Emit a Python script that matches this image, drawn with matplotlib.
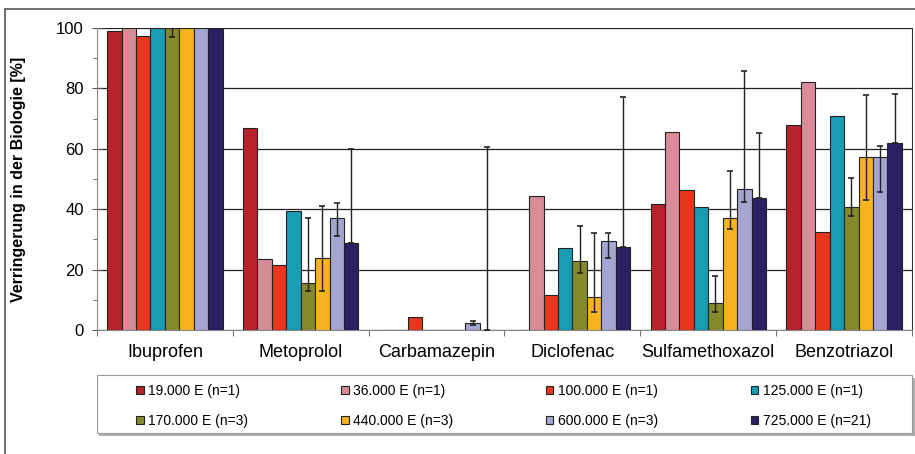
import numpy as np
import matplotlib.pyplot as plt
from matplotlib.patches import Rectangle
from matplotlib.ticker import MultipleLocator

plt.rcParams["font.family"] = ["Liberation Sans", "DejaVu Sans"]

# ==================== 数据 ====================
categories = ["Ibuprofen", "Metoprolol", "Carbamazepin", "Diclofenac",
              "Sulfamethoxazol", "Benzotriazol"]
labels = ["19.000 E (n=1)", "36.000 E (n=1)", "100.000 E (n=1)", "125.000 E (n=1)",
          "170.000 E (n=3)", "440.000 E (n=3)", "600.000 E (n=3)", "725.000 E (n=21)"]

v19 = [99, 67, 0, 0, 41.8, 68]
v36 = [100, 23.4, 0, 44.3, 65.7, 82]
v100 = [97.5, 21.5, 4.3, 11.5, 46.5, 32.6]
v125 = [100, 39.3, 0, 27, 40.8, 70.7]
v170 = [100, 15.7, 0, 23, 9, 40.7]
v440 = [100, 24, 0, 11, 37, 57.3]
v600 = [100, 37, 2.3, 29.5, 46.8, 57.2]
v725 = [100, 28.7, 0, 27.5, 43.6, 62]

# Fehlerbalken (untere / obere Grenze), nan = kein Balken
lo170 = [97, 13, np.nan, 19, 6, 37.7]
hi170 = [100, 37, np.nan, 34.4, 18, 50.2]
lo440 = [100, 13, np.nan, 6, 33.6, 43]
hi440 = [100, 41, np.nan, 32, 52.6, 77.8]
lo600 = [100, 31, 1.5, 24, 42.3, 45.8]
hi600 = [100, 42, 3, 32, 85.6, 61]
lo725 = [100, 28.7, 0, 27.5, 43.6, 62]
hi725 = [100, 60, 60.5, 77, 65.2, 78]

colors = ["#b8232b", "#d98c98", "#e8361e", "#1b9cb5",
          "#878a2c", "#f7b21f", "#a5a5d2", "#2c1f63"]

values = [v19, v36, v100, v125, v170, v440, v600, v725]
errors = [None, None, None, None, (lo170, hi170), (lo440, hi440),
          (lo600, hi600), (lo725, hi725)]

# ==================== 绘图 ====================
fig = plt.figure(figsize=(9.15, 4.54), dpi=100)
ax = fig.add_axes([97 / 915, 1 - 330 / 454, 815 / 915, 302 / 454])

x = np.arange(len(categories))
n = len(values)
bw = 0.85 / n
handles = []
for i, (vals, col, lab, err) in enumerate(zip(values, colors, labels, errors)):
    pos = x - 0.425 + bw * (i + 0.5)
    b = ax.bar(pos, vals, bw, color=col, edgecolor="#222222", linewidth=0.8,
               label=lab, zorder=3)
    handles.append(b)
    if err is not None:
        v = np.array(vals, dtype=float)
        lo = np.array(err[0], dtype=float)
        hi = np.array(err[1], dtype=float)
        mask = ~np.isnan(lo)
        yerr = np.vstack([v[mask] - lo[mask], hi[mask] - v[mask]])
        ax.errorbar(pos[mask], v[mask], yerr=yerr, fmt="none", ecolor="#222222",
                    elinewidth=1.0, capsize=2.5, capthick=1.2, zorder=4)

ax.set_xlim(-0.5, len(categories) - 0.5)
ax.set_ylim(0, 100)
ax.yaxis.set_major_locator(MultipleLocator(20))
ax.yaxis.set_minor_locator(MultipleLocator(10))
ax.grid(axis="y", color="#222222", linewidth=0.9, zorder=0)
ax.set_xticks(x)
ax.set_xticklabels(categories, fontsize=13)
ax.tick_params(axis="x", length=0, pad=10)
ax.set_xticks(np.arange(len(categories) + 1) - 0.5, minor=True)
ax.tick_params(axis="x", which="minor", length=4, color="#555555")
ax.tick_params(axis="y", which="major", length=7, direction="inout",
               labelsize=12, color="#555555", pad=6)
ax.tick_params(axis="y", which="minor", length=3, color="#555555")
ax.spines["top"].set_visible(False)
for s in ["left", "bottom"]:
    ax.spines[s].set_color("#888888")
ax.spines["right"].set_color("#333333")
ax.set_ylabel("Verringerung in der Biologie [%]", fontsize=11.5, fontweight="bold")
ax.yaxis.set_label_coords(-71 / 815, 0.5)

# Legende zeilenweise
order = [0, 4, 1, 5, 2, 6, 3, 7]
leg = fig.legend([handles[k] for k in order], [labels[k] for k in order],
                 loc="upper left", bbox_to_anchor=(136 / 915, 1 - 384 / 454),
                 ncol=4, fontsize=10, frameon=False,
                 handlelength=0.55, handleheight=0.55, handletextpad=0.3,
                 borderpad=0, borderaxespad=0, labelspacing=1.15,
                 columnspacing=6.7)

# Legendenrahmen mit Schatten
fig.patches.append(Rectangle((99 / 915, 1 - 436 / 454), 816 / 915, 58 / 454,
                             transform=fig.transFigure, facecolor="#b0b0b0",
                             edgecolor="none", zorder=0))
fig.patches.append(Rectangle((97 / 915, 1 - 433 / 454), 815 / 915, 58 / 454,
                             transform=fig.transFigure, facecolor="white",
                             edgecolor="#999999", linewidth=0.8, zorder=0.5))

# 外框
fig.patches.append(Rectangle((5 / 915, -10 / 454), 920 / 915, 455 / 454,
                             transform=fig.transFigure, fill=False,
                             edgecolor="#555555", linewidth=1.2))

fig.savefig("out.png", dpi=100)
